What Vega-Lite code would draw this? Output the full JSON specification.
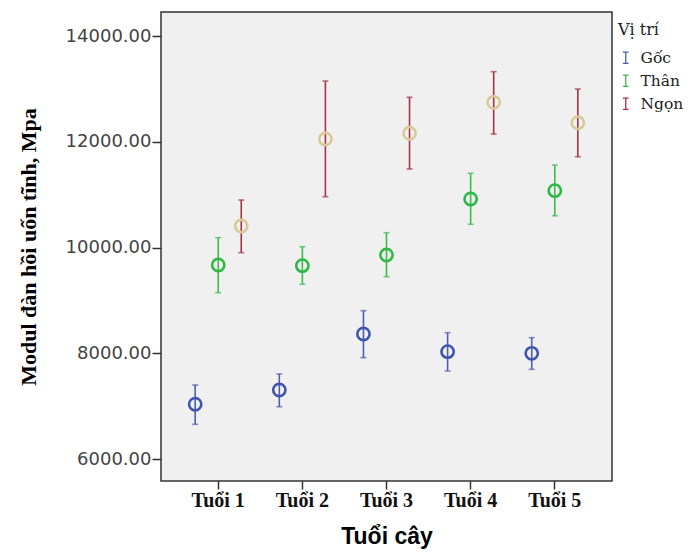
{
  "$schema": "https://vega.github.io/schema/vega-lite/v6.json",
  "width": 451,
  "height": 469,
  "autosize": {"type": "none"},
  "padding": {"left": 161, "top": 12, "right": 79, "bottom": 71},
  "background": "white",
  "config": {
    "font": "Liberation Serif",
    "view": {"fill": "#F0F0F0", "stroke": "#333333", "strokeWidth": 1.5},
    "legend": {
      "titleFont": "DejaVu Serif",
      "titleFontSize": 16,
      "titleFontWeight": "normal",
      "titleColor": "#222222",
      "titlePadding": 12,
      "labelFont": "DejaVu Serif",
      "labelFontSize": 15.5,
      "labelColor": "#222222",
      "labelOffset": 7,
      "rowPadding": 5,
      "symbolStrokeWidth": 1.3,
      "symbolFillColor": "transparent",
      "padding": 0
    }
  },
  "data": {
    "values": [
      {"age": "Tuổi 1", "pos": "Gốc", "mean": 7035, "lo": 6656, "hi": 7400},
      {"age": "Tuổi 2", "pos": "Gốc", "mean": 7305, "lo": 6989, "hi": 7608},
      {"age": "Tuổi 3", "pos": "Gốc", "mean": 8364, "lo": 7917, "hi": 8805},
      {"age": "Tuổi 4", "pos": "Gốc", "mean": 8030, "lo": 7664, "hi": 8389},
      {"age": "Tuổi 5", "pos": "Gốc", "mean": 7999, "lo": 7696, "hi": 8295},
      {"age": "Tuổi 1", "pos": "Thân", "mean": 9669, "lo": 9145, "hi": 10186},
      {"age": "Tuổi 2", "pos": "Thân", "mean": 9656, "lo": 9304, "hi": 10015},
      {"age": "Tuổi 3", "pos": "Thân", "mean": 9858, "lo": 9448, "hi": 10280},
      {"age": "Tuổi 4", "pos": "Thân", "mean": 10917, "lo": 10439, "hi": 11403},
      {"age": "Tuổi 5", "pos": "Thân", "mean": 11075, "lo": 10601, "hi": 11560},
      {"age": "Tuổi 1", "pos": "Ngọn", "mean": 10407, "lo": 9902, "hi": 10898},
      {"age": "Tuổi 2", "pos": "Ngọn", "mean": 12052, "lo": 10961, "hi": 13149},
      {"age": "Tuổi 3", "pos": "Ngọn", "mean": 12160, "lo": 11485, "hi": 12841},
      {"age": "Tuổi 4", "pos": "Ngọn", "mean": 12746, "lo": 12146, "hi": 13325},
      {"age": "Tuổi 5", "pos": "Ngọn", "mean": 12360, "lo": 11717, "hi": 12998}
    ]
  },
  "encoding": {
    "x": {
      "field": "age",
      "type": "nominal",
      "scale": {"paddingInner": 0, "paddingOuter": 0.18},
      "axis": {
        "title": "Tuổi cây",
        "titleFont": "Liberation Sans",
        "titleFontSize": 23,
        "titleFontWeight": "bold",
        "titleColor": "#000000",
        "titlePadding": 15,
        "labelAngle": 0,
        "labelFont": "Liberation Serif",
        "labelFontSize": 20,
        "labelFontWeight": "bold",
        "labelColor": "#111111",
        "labelPadding": 1,
        "tickSize": 8,
        "tickColor": "#333333",
        "tickWidth": 1.5,
        "domain": false
      }
    },
    "xOffset": {
      "field": "pos",
      "type": "nominal",
      "sort": ["Gốc", "Thân", "Ngọn"],
      "scale": {"paddingInner": 0, "paddingOuter": 0.326}
    }
  },
  "layer": [
    {
      "mark": {"type": "rule", "strokeWidth": 1.6},
      "encoding": {
        "y": {
          "field": "lo",
          "type": "quantitative",
          "scale": {"domain": [5584, 14454], "nice": false, "zero": false},
          "axis": {
            "title": "Modul đàn hồi uốn tĩnh, Mpa",
            "titleFont": "Liberation Serif",
            "titleFontSize": 22,
            "titleFontWeight": "bold",
            "titleColor": "#000000",
            "titleX": -133,
            "titleBaseline": "middle",
            "values": [6000, 8000, 10000, 12000, 14000],
            "format": ".2f",
            "labelFont": "DejaVu Sans",
            "labelFontSize": 18,
            "labelColor": "#444444",
            "labelPadding": 1,
            "tickSize": 9,
            "tickColor": "#333333",
            "tickWidth": 1.5,
            "grid": false,
            "domain": false
          }
        },
        "y2": {"field": "hi"},
        "color": {
          "field": "pos",
          "type": "nominal",
          "sort": ["Gốc", "Thân", "Ngọn"],
          "scale": {"domain": ["Gốc", "Thân", "Ngọn"], "range": ["#4d5fae", "#3dbb4f", "#a23445"]},
          "legend": {
            "title": "Vị trí",
            "orient": "none",
            "legendX": 457,
            "legendY": 10,
            "symbolType": "M-0.5,-1H0.5M0,-1V1M-0.5,1H0.5",
            "symbolSize": 130
          }
        }
      }
    },
    {
      "mark": {"type": "tick", "size": 6, "thickness": 1.6},
      "encoding": {
        "y": {"field": "hi", "type": "quantitative"},
        "color": {"field": "pos", "type": "nominal", "legend": null}
      }
    },
    {
      "mark": {"type": "tick", "size": 6, "thickness": 1.6},
      "encoding": {
        "y": {"field": "lo", "type": "quantitative"},
        "color": {"field": "pos", "type": "nominal", "legend": null}
      }
    },
    {
      "mark": {"type": "point", "filled": false, "strokeWidth": 2.6, "opacity": 1, "size": 150},
      "encoding": {
        "y": {"field": "mean", "type": "quantitative"},
        "stroke": {
          "field": "pos",
          "type": "nominal",
          "scale": {"domain": ["Gốc", "Thân", "Ngọn"], "range": ["#4155ad", "#2fb846", "#d8ca98"]},
          "legend": null
        }
      }
    }
  ]
}
